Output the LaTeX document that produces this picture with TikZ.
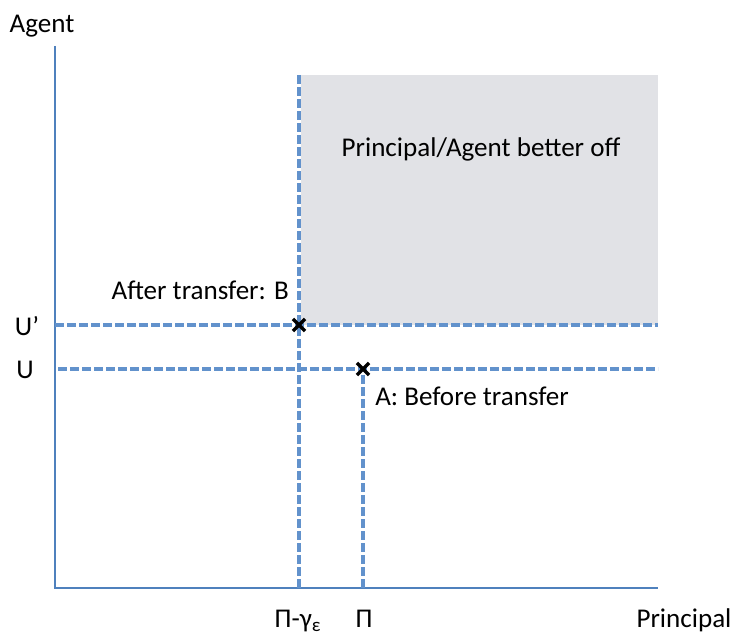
\documentclass[tikz,border=0pt]{standalone}
\usepackage{fontspec}
\setmainfont{Carlito}
\usepackage{xcolor}
\usepackage{tikz}
\usetikzlibrary{
  calc,
  shapes.misc
}
\definecolor{axisblue}{RGB}{79,129,189}
\definecolor{guideblue}{RGB}{98,146,204}
\definecolor{regiongray}{RGB}{225,226,230}
\tikzset{
  axis/.style={
    draw=axisblue,
    line width=2.2pt},
  guide/.style={
    draw=guideblue,
    line width=2.3pt,
    dash pattern=on 6.6pt off 2.4pt},
  cross/.style={
    cross out,
    draw=black,
    line width=2.6pt,
    minimum size=6.5pt,
    inner sep=0pt},
  lbl/.style={
    font=\fontsize{20.3}{24}\selectfont,
    inner sep=0pt}
  }

\begin{document}
\begin{tikzpicture}[x=0.75pt,y=-0.75pt]
		\useasboundingbox (0,0) rectangle (734,634);
		\coordinate (origin) at (55,588);
		\coordinate (ytop) at (55,46);
		\coordinate (xend) at (658,588);
		\coordinate (uprimeL) at (55,325);
		\coordinate (uprimeR) at (658,325);
		\coordinate (uL) at (58,369);
		\coordinate (uR) at (658,369);
		\coordinate (piepsTop) at (299,75);
		\coordinate (piepsBot) at (299,588);
		\coordinate (piBot) at (362,588);
		\coordinate (regionTL) at (301,75);
		\fill [regiongray] (regionTL) rectangle (uprimeR);
		\draw [axis] (ytop) to (origin) to (xend);
		\draw [axis, line width=1.4pt] (piepsBot) to ++(0,-6);
		\draw [axis, line width=1.4pt] (piBot) to ++(0,-6);
		\draw [guide] (uprimeL) to (uprimeR);
		\draw [guide] (uL) to (uR);
		\draw [guide] (piepsTop) to (piepsBot);
		\node [cross] (B) at (299,325) {};
		\node [cross] (A) at (363,369) {};
		\draw [guide] (A) to (A |- piBot);
		\node [lbl, anchor=base] (agentlbl) at (42,33) {Agent};
		\node [lbl, anchor=base] (uprimelbl) at (27,335) {U’};
		\node [lbl, anchor=base] (ulbl) at (25,378) {U};
		\node [lbl, anchor=base east] (afterlbl) at (289,300) {After transfer: B};
		\node [lbl, anchor=base west] (beforelbl) at (375,405) {A: Before transfer};
		\node [lbl, anchor=base] (regionlbl) at (481,157) {Principal/Agent better off};
		\node [lbl, anchor=base] (pieps) at (298,627) {Π-γ\textsubscript{ε}};
		\node [lbl, anchor=base] (pilbl) at (364,627) {Π};
		\node [lbl, anchor=base] (principallbl) at (684,627) {Principal};
	\end{tikzpicture}
\end{document}
